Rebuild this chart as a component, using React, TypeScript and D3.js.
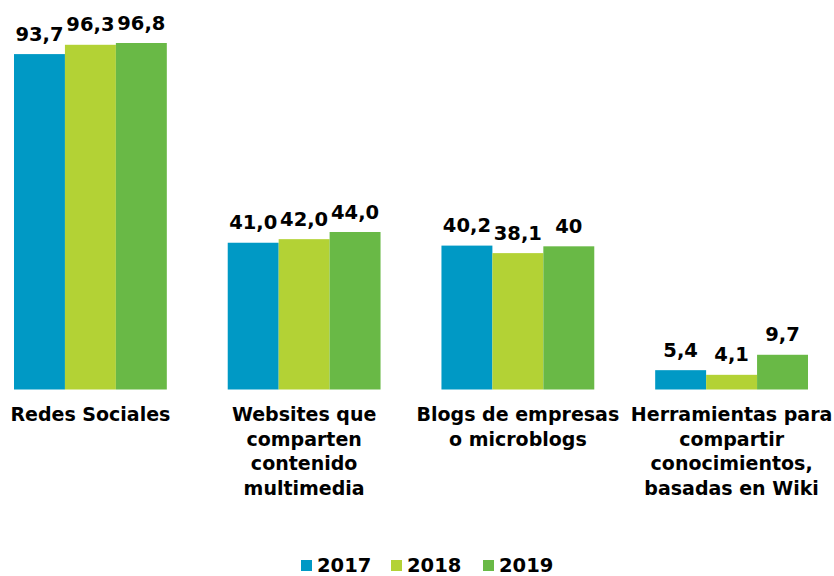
import React from "react";
import * as d3 from "d3";

const categories: string[][] = [
  ["Redes Sociales"],
  ["Websites que", "comparten", "contenido", "multimedia"],
  ["Blogs de empresas", "o microblogs"],
  ["Herramientas para", "compartir", "conocimientos,", "basadas en Wiki"],
];
const series = ["2017", "2018", "2019"];
const values2017 = [93.7, 41.0, 40.2, 5.4];
const values2018 = [96.3, 42.0, 38.1, 4.1];
const values2019 = [96.8, 44.0, 40, 9.7];
const labels2017 = ["93,7", "41,0", "40,2", "5,4"];
const labels2018 = ["96,3", "42,0", "38,1", "4,1"];
const labels2019 = ["96,8", "44,0", "40", "9,7"];
const colors = ["#0099C5", "#B3D235", "#69B946"];

const W = 834;
const H = 576;
const FONT = "'DejaVu Sans', Verdana, sans-serif";

export default function App() {
  const allValues = [values2017, values2018, values2019];
  const allLabels = [labels2017, labels2018, labels2019];
  const x0 = d3
    .scaleBand<number>()
    .domain(d3.range(categories.length))
    .range([14, 808])
    .paddingInner(0.285)
    .paddingOuter(0);
  const x1 = d3
    .scaleBand<number>()
    .domain(d3.range(series.length))
    .range([0, x0.bandwidth()])
    .padding(0);
  const y = d3.scaleLinear().domain([0, 96.8]).range([389.5, 43]);

  const legendX = [301, 391, 483];

  return (
    <svg
      width={W}
      height={H}
      style={{ position: "absolute", left: 0, top: 0, background: "#fff" }}
      fontFamily={FONT}
    >
      {categories.map((cat, ci) => (
        <g key={ci} transform={`translate(${x0(ci)},0)`}>
          {series.map((s, si) => {
            const v = allValues[si][ci];
            const bx = x1(si)!;
            return (
              <g key={si}>
                <rect
                  x={bx}
                  y={y(v)}
                  width={x1.bandwidth()}
                  height={y(0) - y(v)}
                  fill={colors[si]}
                />
                <text
                  x={bx + x1.bandwidth() / 2}
                  y={y(v) - 13.5}
                  textAnchor="middle"
                  fontWeight="bold"
                  fontSize={19.5}
                  fill="#000"
                >
                  {allLabels[si][ci]}
                </text>
              </g>
            );
          })}
          <text
            x={x0.bandwidth() / 2}
            y={421}
            textAnchor="middle"
            fontWeight="bold"
            fontSize={19}
            fill="#000"
          >
            {cat.map((line, li) => (
              <tspan key={li} x={x0.bandwidth() / 2} dy={li === 0 ? 0 : 24.5}>
                {line}
              </tspan>
            ))}
          </text>
        </g>
      ))}
      {series.map((s, si) => (
        <g key={s}>
          <rect x={legendX[si]} y={560} width={11} height={11} fill={colors[si]} />
          <text
            x={legendX[si] + 16}
            y={571.5}
            fontWeight="bold"
            fontSize={19.5}
            fill="#000"
          >
            {s}
          </text>
        </g>
      ))}
    </svg>
  );
}
